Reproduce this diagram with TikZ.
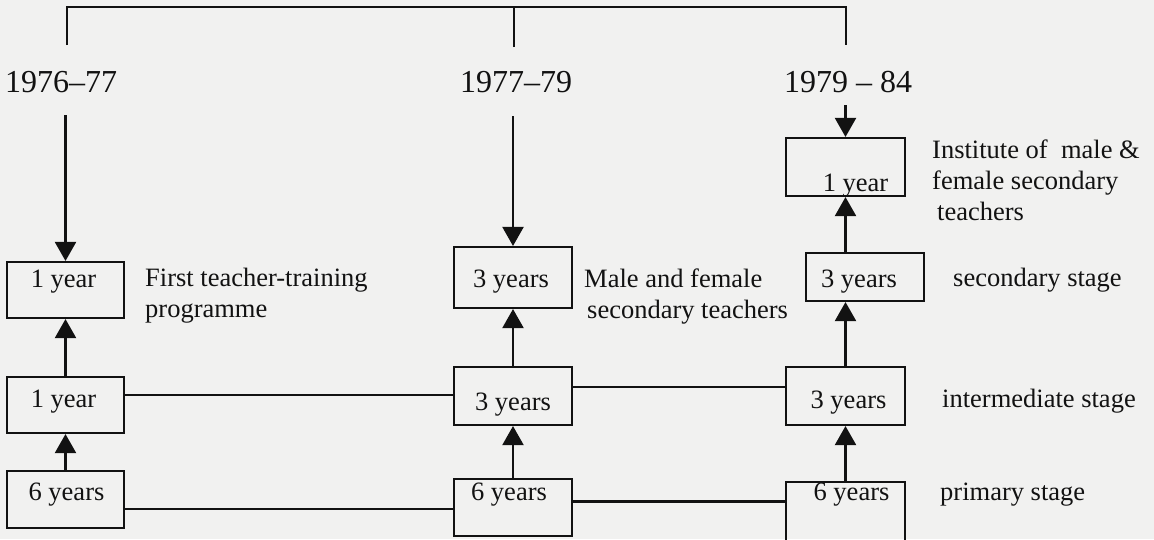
\documentclass[tikz,border=0pt]{standalone}
\usepackage{fontspec}
\setmainfont{Liberation Serif}
\usetikzlibrary{arrows.meta}
\definecolor{paper}{RGB}{241,241,240}
\definecolor{ink}{RGB}{18,18,18}

\begin{document}
\begin{tikzpicture}[x=1pt,y=-1pt,
  line/.style={draw=ink, line width=2.1pt},
  arr/.style={line, -{Triangle[width=21pt,length=19pt]}},
  box/.style={draw=ink, line width=2.1pt, inner sep=0pt, minimum width=118pt},
  boxtxt/.style={anchor=base, inner sep=0pt, text=ink, font=\fontsize{26.5}{31}\selectfont},
  lbl/.style={anchor=base west, inner sep=0pt, text=ink, align=left, font=\fontsize{26.5}{31}\selectfont},
  year/.style={anchor=base west, inner sep=0pt, text=ink, font=\fontsize{32}{36}\selectfont}]

% page and background
\fill[paper] (0,0) rectangle (1154,539);
\useasboundingbox (0,0) rectangle (1154,539);
\clip (0,0) rectangle (1154,539);

% period headings
\node[year] (y1) at (5,92) {1976–77};
\node[year] (y2) at (460,92) {1977–79};
\node[year] (y3) at (784,92) {1979 – 84};

% bracket over the three periods
\coordinate (bl) at (67,45);
\coordinate (bm) at (514,47);
\coordinate (br) at (846,45);
\coordinate (bt) at (514,7);
\draw[line] (bl) |- (bt) -| (br);
\draw[line] (bm) -- (bt);

% first column: 1976-77
\node[box, minimum width=117pt, minimum height=56pt] (L1) at (65.5,290) {};
\node[box, minimum width=117pt, minimum height=56pt] (L2) at (65.5,405) {};
\node[box, minimum width=117pt, minimum height=57pt] (L3) at (65.5,499.5) {};
\node[boxtxt] (L1t) at (63.5,287) {1 year};
\node[boxtxt] (L2t) at (63.5,407) {1 year};
\node[boxtxt] (L3t) at (66.5,500) {6 years};
% multi-line labels are placed by the baseline of their last line
\node[lbl] (L1l) at (145,317) {First teacher-training\\programme};

% second column: 1977-79
\node[box, minimum height=61pt] (M1) at (513,277.5) {};
\node[box, minimum height=58pt] (M2) at (513,396) {};
\node[box, minimum height=57pt] (M3) at (513,507.5) {};
\node[boxtxt] (M1t) at (511,287) {3 years};
\node[boxtxt] (M2t) at (513,410) {3 years};
\node[boxtxt] (M3t) at (509,500) {6 years};
\node[lbl] (M1l) at (584,318) {Male and female\\\hspace{3pt}secondary teachers};

% third column: 1979-84
\node[box, minimum width=119pt, minimum height=58pt] (R0) at (845.5,167) {};
\node[box, minimum height=48pt] (R1) at (865,277) {};
\node[box, minimum width=119pt, minimum height=58pt] (R2) at (845.5,396) {};
\node[box, minimum width=119pt, minimum height=59pt] (R3) at (845.5,511.5) {};
\node[boxtxt] (R0t) at (855.5,191) {1 year};
\node[boxtxt] (R1t) at (859,287) {3 years};
\node[boxtxt] (R2t) at (848.5,408) {3 years};
\node[boxtxt] (R3t) at (851.5,500) {6 years};
\node[lbl] (R0l) at (932,220) {Institute of\ \ male \&\\female secondary\\\hspace{5pt}teachers};
\node[lbl] (R1l) at (953,286) {secondary stage};
\node[lbl] (R2l) at (942,407) {intermediate stage};
\node[lbl] (R3l) at (940,500) {primary stage};

% arrows from the headings
\coordinate (s1) at (65.5,115);
\coordinate (s2) at (513,116);
\coordinate (s3) at (845.5,105);
\draw[arr] (s1) -- (L1.north);
\draw[arr] (s2) -- (M1.north);
\draw[arr] (s3) -- (R0.north);

% progression within each column
\draw[arr] (L3.north) -- (L2.south);
\draw[arr] (L2.north) -- (L1.south);
\draw[arr] (M3.north) -- (M2.south);
\draw[arr] (M2.north) -- (M1.south);
\draw[arr] (R3.north) -- (R2.south);
\draw[arr] (R2.north) -- (R1.south -| R2.north);
\draw[arr] (R1.north -| R0.south) -- (R0.south);

% links between the columns
\draw[line] ([yshift=10pt]L2.east) -- ([yshift=10pt]L2.east -| M2.west);
\draw[line] ([yshift=9pt]M2.east) -- ([yshift=9pt]M2.east -| R2.west);
\draw[line] ([yshift=-9.5pt]L3.east) -- ([yshift=-9.5pt]L3.east -| M3.west);
\draw[line] ([yshift=6pt]M3.east) -- ([yshift=6pt]M3.east -| R3.west);
\end{tikzpicture}
\end{document}
